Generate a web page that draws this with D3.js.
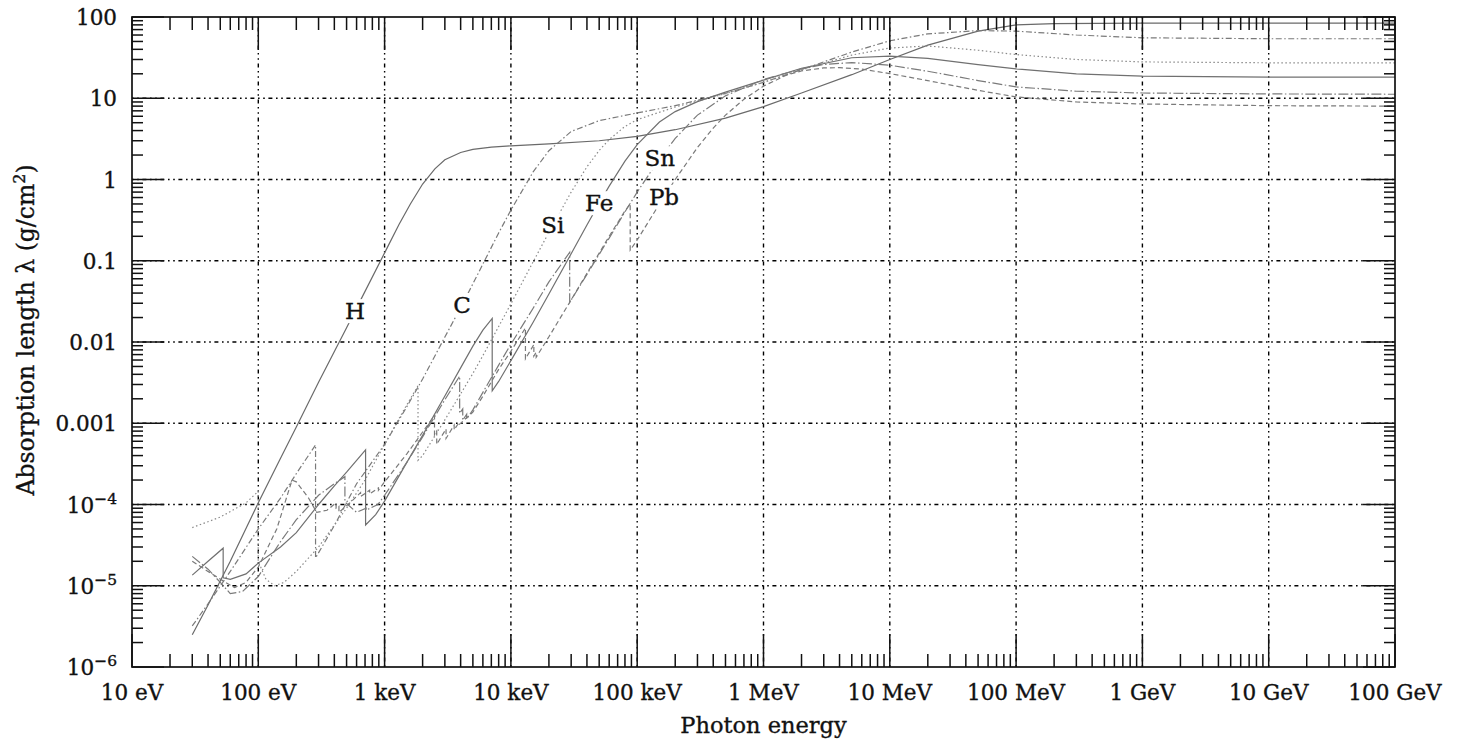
<!DOCTYPE html>
<html>
<head>
<meta charset="utf-8" />
<script src="https://d3js.org/d3.v7.min.js"></script>
<style>
  body { margin: 0; background: #fff; }
  text { font-family: "DejaVu Serif", serif; fill: #111; stroke: #111; stroke-width: 0.35px; }
</style>
</head>
<body>
<svg id="chart" width="1457" height="741"></svg>
<script>
// photon energy [eV], absorption length [g/cm2]; repeated energy = absorption edge
const H = [[30,2.5e-6],[40,5.8e-6],[60,2.0e-5],[100,1.05e-4],[150,3.7e-4],[200,9.0e-4],[300,3.2e-3],
  [500,1.5e-2],[700,4.2e-2],[1000,0.125],[1300,0.28],[1600,0.5],[2000,0.88],[2500,1.35],[3000,1.75],
  [4000,2.15],[5000,2.35],[7000,2.5],[1e4,2.6],[2e4,2.75],[5e4,3.0],[1e5,3.4],[2e5,4.1],[5e5,5.7],
  [1e6,7.9],[2e6,11.6],[5e6,19.5],[1e7,30],[2e7,45],[5e7,67],[1e8,80],[2e8,83],[1e9,84],[1e10,84],[1e11,84]];

const C = [[30,3.2e-6],[40,6e-6],[60,1.5e-5],[100,5e-5],[150,1.2e-4],[200,2.4e-4],[284,5.4e-4],[284,2.2e-5],
  [400,5.5e-5],[600,1.8e-4],[1000,5.5e-4],[1500,1.6e-3],[2000,3.5e-3],[3000,0.0115],[4000,0.0265],
  [5000,0.052],[6000,0.091],[8000,0.22],[1e4,0.42],[1.5e4,1.24],[2e4,2.26],[3e4,3.9],[5e4,5.3],[1e5,6.6],
  [2e5,8.1],[5e5,11.5],[1e6,15.7],[2e6,22.5],[5e6,37],[1e7,51],[2e7,62],[5e7,68],[1e8,67],[3e8,60],
  [1e9,55.5],[1e10,54],[1e11,54]];

const Si = [[30,5.2e-5],[50,7e-5],[80,1.05e-4],[99.8,1.45e-4],[99.8,2.0e-5],[115,1.2e-5],[135,1.0e-5],
  [160,1.1e-5],[200,1.5e-5],[300,3.0e-5],[500,9e-5],[700,2.0e-4],[1000,5.5e-4],[1400,1.4e-3],[1839,2.9e-3],
  [1839,3.5e-4],[2000,4.0e-4],[3000,1.1e-3],[4000,2.3e-3],[5000,4.1e-3],[6000,6.8e-3],[8000,0.0155],
  [1e4,0.0295],[1.5e4,0.097],[2e4,0.224],[3e4,0.70],[4e4,1.43],[5e4,2.28],[6e4,3.1],[8e4,4.5],[1e5,5.45],
  [2e5,7.8],[5e5,11.4],[1e6,15.7],[2e6,22.4],[5e6,34],[1e7,41.5],[2e7,44],[5e7,39],[1e8,34.5],[3e8,30],
  [1e9,28],[1e10,27.3],[1e11,27.3]];

const Fe = [[30,1.35e-5],[40,2.0e-5],[52.7,2.9e-5],[52.7,1.25e-5],[60,1.2e-5],[80,1.4e-5],[100,1.9e-5],
  [150,3.0e-5],[200,4.5e-5],[300,1.0e-4],[400,1.7e-4],[500,2.5e-4],[707,4.7e-4],[707,5.6e-5],[850,7.5e-5],
  [1000,1.1e-4],[1500,3.3e-4],[2000,7.1e-4],[3000,2.16e-3],[4000,4.8e-3],[5000,8.9e-3],[6000,0.014],
  [7112,0.0195],[7112,2.5e-3],[8000,3.27e-3],[1e4,5.9e-3],[1.5e4,0.0175],[2e4,0.039],[3e4,0.122],
  [4e4,0.276],[5e4,0.511],[6e4,0.83],[8e4,1.68],[1e5,2.69],[1.5e5,5.09],[2e5,6.85],[3e5,9.1],[5e5,11.9],
  [1e6,16.7],[2e6,23.4],[5e6,31.5],[1e7,33],[2e7,31],[5e7,26],[1e8,23],[3e8,20],[1e9,18.7],[1e10,18.2],
  [1e11,18.2]];

const Sn = [[30,2.3e-5],[40,1.6e-5],[50,1.1e-5],[60,8e-6],[75,8.5e-6],[100,1.3e-5],[150,3.5e-5],
  [200,6.5e-5],[300,1.3e-4],[400,1.8e-4],[485,2.2e-4],[485,1.1e-4],[493,1.05e-4],[600,8e-5],[714,9e-5],
  [714,8.5e-5],[884,1.0e-4],[1000,1.3e-4],[1500,3.3e-4],[2000,6.8e-4],[3000,1.95e-3],[3929,3.8e-3],
  [3929,1.33e-3],[4156,1.5e-3],[4156,1.09e-3],[4465,1.29e-3],[4465,1.12e-3],[5000,1.46e-3],[6000,2.4e-3],
  [8000,5.2e-3],[1e4,9.4e-3],[1.5e4,0.026],[2e4,0.055],[2.92e4,0.127],[2.92e4,0.0307],[4e4,0.068],
  [5e4,0.12],[6e4,0.19],[8e4,0.4],[1e5,0.7],[1.5e5,1.8],[2e5,3.2],[3e5,6.2],[5e5,10.7],[1e6,17],
  [2e6,23],[3e6,26],[5e6,27.5],[1e7,25.5],[2e7,21.5],[5e7,16.5],[1e8,13.8],[3e8,12.2],[1e9,11.6],
  [1e10,11.3],[1e11,11.2]];

const Pb = [[30,2.0e-5],[40,1.5e-5],[55,1.1e-5],[65,9.5e-6],[80,1.1e-5],[100,1.7e-5],[140,5e-5],
  [185,2.0e-4],[200,1.9e-4],[250,1.2e-4],[290,8e-5],[350,8.5e-5],[413,1.05e-4],[413,9e-5],[435,9.5e-5],
  [435,8e-5],[550,1.1e-4],[645,1.4e-4],[645,1.25e-4],[761,1.5e-4],[761,1.35e-4],[894,1.6e-4],[894,1.5e-4],
  [1000,1.9e-4],[1500,4.2e-4],[2000,7.8e-4],[2484,1.25e-3],[2484,7.2e-4],[2586,8e-4],[2586,5.5e-4],
  [3066,8.5e-4],[3066,6.5e-4],[3554,9.5e-4],[3554,8.3e-4],[3851,1.0e-3],[3851,9.5e-4],[5000,1.37e-3],
  [6000,2.15e-3],[8000,4.6e-3],[1e4,7.7e-3],[13035,0.0149],[13035,6.2e-3],[15200,9.3e-3],[15200,6.7e-3],
  [15860,7.5e-3],[15860,6.5e-3],[2e4,0.0116],[3e4,0.033],[4e4,0.07],[5e4,0.124],[6e4,0.2],[8e4,0.41],
  [8.8e4,0.5],[8.8e4,0.135],[1e5,0.18],[1.5e5,0.5],[2e5,1.0],[3e5,2.48],[4e5,4.3],[5e5,6.2],[7e5,9.7],
  [1e6,14.1],[1.5e6,19.1],[2e6,21.7],[3e6,23.6],[4e6,23.8],[6e6,22.8],[1e7,20.1],[2e7,16.5],[5e7,12.5],
  [1e8,10.4],[3e8,9.0],[1e9,8.5],[1e10,8.1],[1e11,8.0]];

const elements = ["H", "C", "Si", "Fe", "Sn", "Pb"];
const curves = { H: H, C: C, Si: Si, Fe: Fe, Sn: Sn, Pb: Pb };
// energy where each element name sits on its curve
const labelEnergy = { H: 583, C: 4100, Si: 21500, Fe: 50000, Sn: 151000, Pb: 163000 };

const xTickLabels = ["10 eV", "100 eV", "1 keV", "10 keV", "100 keV", "1 MeV", "10 MeV",
  "100 MeV", "1 GeV", "10 GeV", "100 GeV"];
const yTickLabels = [["10", "−6"], ["10", "−5"], ["10", "−4"], ["0.001"], ["0.01"], ["0.1"],
  ["1"], ["10"], ["100"]];

const dash = { H: null, C: "6,2.5,1.5,2.5", Si: "1.5,2.5", Fe: null, Sn: "10,2.5,1.5,2.5", Pb: "5,3" };
const strokeCol = { H: "#6a6a6a", C: "#7a7a7a", Si: "#8a8a8a", Fe: "#707070", Sn: "#7a7a7a", Pb: "#7a7a7a" };

const svg = d3.select("#chart");
const pLeft = 132, pRight = 1395, pTop = 17, pBottom = 667;
const x = d3.scaleLog().domain([10, 1e11]).range([pLeft, pRight]);
const y = d3.scaleLog().domain([1e-6, 100]).range([pBottom, pTop]);

const xDecades = d3.range(1, 12).map(p => Math.pow(10, p));
const yDecades = d3.range(-6, 3).map(p => Math.pow(10, p));

// grid
const grid = svg.append("g").attr("stroke", "#000").attr("stroke-width", 1.4)
  .attr("stroke-dasharray", "1.6,3.6,1.6,3.6,4,3.6");
grid.selectAll(".gx").data(xDecades.slice(1, -1)).enter().append("line")
  .attr("x1", d => x(d)).attr("x2", d => x(d)).attr("y1", pTop).attr("y2", pBottom);
grid.selectAll(".gy").data(yDecades.slice(1, -1)).enter().append("line")
  .attr("y1", d => y(d)).attr("y2", d => y(d)).attr("x1", pLeft).attr("x2", pRight);

// curves
const line = d3.line().x(d => x(d[0])).y(d => y(d[1]));
svg.append("g").selectAll("path").data(elements).enter().append("path")
  .attr("d", k => line(curves[k]))
  .attr("fill", "none")
  .attr("stroke", k => strokeCol[k])
  .attr("stroke-width", 1.2)
  .attr("stroke-dasharray", k => dash[k]);

// element labels on their curves
function lambdaAt(pts, e) {
  for (let i = 1; i < pts.length; i++) {
    if (pts[i][0] >= e && pts[i][0] > pts[i - 1][0]) {
      const t = (Math.log(e) - Math.log(pts[i - 1][0])) / (Math.log(pts[i][0]) - Math.log(pts[i - 1][0]));
      return Math.exp(Math.log(pts[i - 1][1]) + t * (Math.log(pts[i][1]) - Math.log(pts[i - 1][1])));
    }
  }
  return pts[pts.length - 1][1];
}
const labels = svg.append("g");
elements.forEach(k => {
  const e = labelEnergy[k];
  const cx = x(e), cy = y(lambdaAt(curves[k], e));
  const t = labels.append("text").attr("x", cx).attr("y", cy).attr("text-anchor", "middle")
    .attr("dominant-baseline", "central").attr("font-size", 23).text(k);
  const b = t.node().getBBox();
  labels.insert("rect", "text").attr("x", b.x - 3).attr("y", b.y + 1).attr("width", b.width + 6)
    .attr("height", b.height - 2).attr("fill", "#fff");
});

// ticks (inward, all four sides)
const ticks = svg.append("g").attr("stroke", "#111").attr("stroke-width", 1.5);
const xMinor = [], yMinor = [];
xDecades.slice(0, -1).forEach(d => { for (let k = 2; k < 10; k++) xMinor.push(d * k); });
yDecades.slice(0, -1).forEach(d => { for (let k = 2; k < 10; k++) yMinor.push(d * k); });
[[xDecades, 33], [xMinor, 13]].forEach(([vals, len]) => {
  ticks.selectAll(null).data(vals).enter().append("line")
    .attr("x1", d => x(d)).attr("x2", d => x(d)).attr("y1", pBottom).attr("y2", pBottom - len);
  ticks.selectAll(null).data(vals).enter().append("line")
    .attr("x1", d => x(d)).attr("x2", d => x(d)).attr("y1", pTop).attr("y2", pTop + len);
});
[[yDecades, 32], [yMinor, 11]].forEach(([vals, len]) => {
  ticks.selectAll(null).data(vals).enter().append("line")
    .attr("y1", d => y(d)).attr("y2", d => y(d)).attr("x1", pLeft).attr("x2", pLeft + len);
  ticks.selectAll(null).data(vals).enter().append("line")
    .attr("y1", d => y(d)).attr("y2", d => y(d)).attr("x1", pRight).attr("x2", pRight - len);
});

svg.append("rect").attr("x", pLeft).attr("y", pTop).attr("width", pRight - pLeft).attr("height", pBottom - pTop)
  .attr("fill", "none").attr("stroke", "#111").attr("stroke-width", 1.7);

// tick labels
svg.append("g").selectAll("text").data(xDecades).enter().append("text")
  .attr("x", d => x(d)).attr("y", 700).attr("text-anchor", "middle").attr("font-size", 21.5)
  .text((d, i) => xTickLabels[i]);

const yl = svg.append("g").selectAll("text").data(yDecades).enter().append("text")
  .attr("x", 117).attr("y", d => y(d) + 8).attr("text-anchor", "end").attr("font-size", 21.5);
yl.append("tspan").text((d, i) => yTickLabels[i][0]);
yl.filter((d, i) => yTickLabels[i].length > 1).append("tspan")
  .attr("dy", -9).attr("font-size", 15.5).text(d => yTickLabels[yDecades.indexOf(d)][1]);

// axis titles
svg.append("text").attr("x", (pLeft + pRight) / 2).attr("y", 733).attr("text-anchor", "middle")
  .attr("font-size", 22.5).text("Photon energy");

const yt = svg.append("text").attr("transform", "translate(34,330) rotate(-90)")
  .attr("text-anchor", "middle").attr("font-size", 23.5);
yt.append("tspan").text("Absorption length λ  (g/cm");
yt.append("tspan").attr("dy", -9).attr("font-size", 16).text("2");
yt.append("tspan").attr("dy", 9).text(")");
</script>
</body>
</html>
